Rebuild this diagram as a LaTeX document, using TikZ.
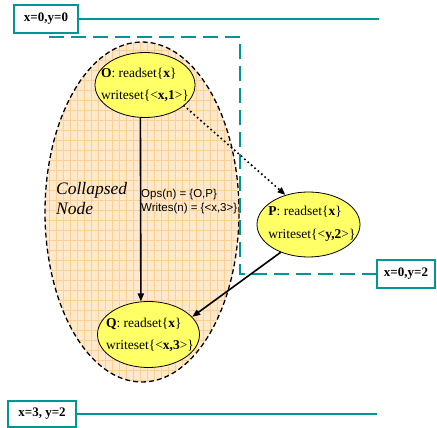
\documentclass[tikz,border=0pt]{standalone}
\usepackage{fontspec}
\setmainfont{Liberation Serif}
\setsansfont{Liberation Sans}
\usetikzlibrary{arrows.meta,shapes.geometric}
\definecolor{tealc}{RGB}{0,150,150}
\definecolor{peach}{RGB}{255,233,202}
\definecolor{gridor}{RGB}{250,208,150}
\definecolor{yel}{RGB}{255,255,102}
\begin{document}
\begin{tikzpicture}[x=1pt,y=-1pt,
  coordbox/.style={draw=tealc,line width=2pt,fill=white,inner sep=0pt,font=\fontsize{13}{15}\selectfont\bfseries},
  tealline/.style={draw=tealc,line width=2pt},
  tealdash/.style={draw=tealc,line width=2pt,dash pattern=on 15pt off 7pt},
  opnode/.style={ellipse,draw=black,line width=0.8pt,fill=yel,inner sep=0pt},
  optext/.style={align=left,inner sep=0pt,font=\fontsize{13.5}{22.5}\selectfont},
  arr/.style={-{Triangle[length=8pt,width=6pt]},line width=1.6pt}
]
\useasboundingbox (0,0) rectangle (437,428);

% collapsed node
\begin{scope}
  \clip (142,212) ellipse [x radius=97pt, y radius=170pt];
  \fill[peach] (40,40) rectangle (245,385);
  \draw[gridor,line width=0.5pt,xstep=7pt,ystep=10pt] (40,40) grid (245,385);
\end{scope}
\draw[black,line width=1.3pt,dash pattern=on 5pt off 3pt] (142,212) ellipse [x radius=97pt, y radius=170pt];

% coordinate boxes and teal lines
\node[coordbox,minimum width=64pt,minimum height=28pt] (b1) at (46,19) {x=0,y=0};
\coordinate (e1) at (379,19);
\draw[tealline] (b1.east) -- (e1);

\node[coordbox,minimum width=58pt,minimum height=28pt] (b2) at (406,274) {x=0,y=2};
\coordinate (d1) at (49,37);
\coordinate (d2) at (240,37);
\draw[tealdash] (d1) -- (d2) -- (d2 |- b2.west) -- (b2.west);

\node[coordbox,minimum width=68pt,minimum height=26pt] (b3) at (42,414) {x=3, y=2};
\coordinate (e3) at (377,414);
\draw[tealline] (b3.east) -- (e3);

% texts in collapsed node
\node[align=left,inner sep=0pt,anchor=north west,font=\fontsize{17.5}{20}\selectfont\itshape] (cn) at (56,182) {Collapsed\\Node};
\node[align=left,inner sep=0pt,anchor=north west,font=\sffamily\fontsize{11.5}{14}\selectfont] (ops) at (141,189) {Ops(n) = \{O,P\}\\Writes(n) = \{<x,3>\}};

% operation nodes
\node[opnode,minimum width=100pt,minimum height=65pt] (O) at (145,85) {};
\node[optext] (Ot) at (145,85) {\textbf{O}: readset\{\textbf{x}\}\\writeset\{<\textbf{x,1}>\}};

\node[opnode,minimum width=103pt,minimum height=65pt] (P) at (308.5,224.5) {};
\node[optext] (Pt) at (312,224) {\textbf{P}: readset\{\textbf{x}\}\\writeset\{<\textbf{y,2}>\}};

\node[opnode,minimum width=102pt,minimum height=66pt] (Q) at (148.5,334.5) {};
\node[optext] (Qt) at (150,335) {\textbf{Q}: readset\{\textbf{x}\}\\writeset\{<\textbf{x,3}>\}};

% connectors
\draw[arr] (O.-98) -- (Q.103);
\draw[-{Triangle[length=8pt,width=6pt]},line width=2.3pt,line cap=round,dash pattern=on 0pt off 4.5pt] (O.-28) -- (P.128);
\draw[arr] (P.-135) -- (Q.22);
\end{tikzpicture}
\end{document}
